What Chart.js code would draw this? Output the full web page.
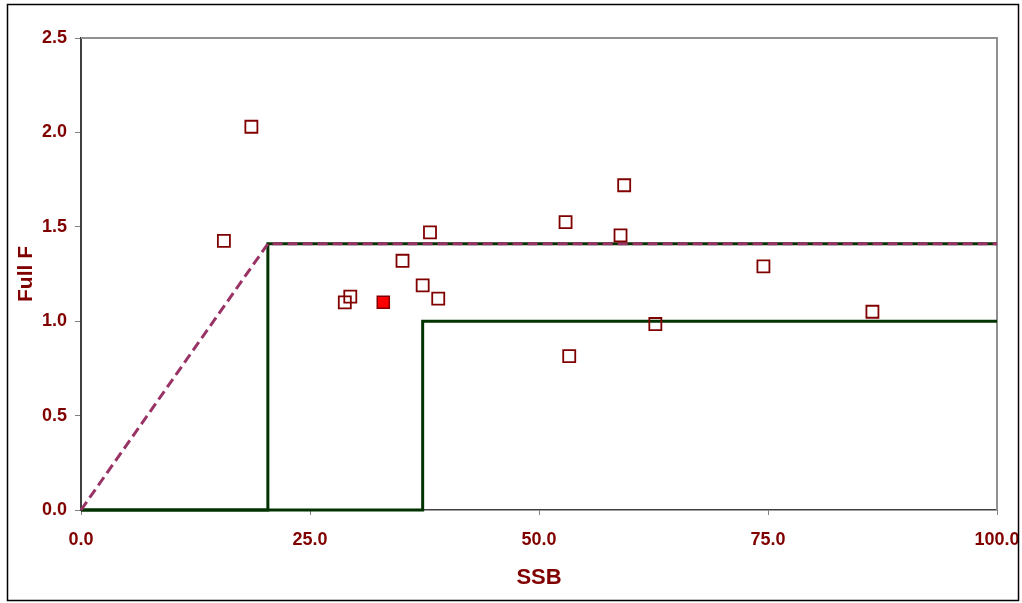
<!DOCTYPE html>
<html>
<head>
<meta charset="utf-8">
<script src="https://cdn.jsdelivr.net/npm/chart.js@4"></script>
<style>
  html, body { margin: 0; padding: 0; background: #fff; }
  #wrap { width: 1022px; height: 603px; position: relative; }
</style>
</head>
<body>
<div id="wrap"><canvas id="chart"></canvas></div>
<script>
// observed stock points (SSB, Full F)
const ssb   = [18.6, 15.6, 28.8, 29.4, 35.1, 37.3, 38.1, 39.0, 52.9, 53.3, 58.9, 59.3, 62.7, 74.5, 86.4];
const fullF = [2.03, 1.425, 1.10, 1.13, 1.32, 1.19, 1.47, 1.12, 1.525, 0.815, 1.455, 1.72, 0.985, 1.29, 1.05];

// latest year, drawn filled
const currentSsb = [33.0];
const currentF   = [1.10];

// harvest control rule lines
const ruleX  = [0, 20.4, 100];
const ruleY  = [0, 1.41, 1.41];
const limitX = [0, 20.4, 20.4, 100];
const limitY = [0, 0, 1.41, 1.41];
const targetX = [0, 37.3, 37.3, 100];
const targetY = [0, 0, 1.0, 1.0];

const xTicks = [0, 25, 50, 75, 100];
const yTicks = [0, 0.5, 1.0, 1.5, 2.0, 2.5];

const toPoints = (xs, ys) => xs.map((x, i) => ({ x: x, y: ys[i] }));

const textColor = '#800000';
const font = "'Liberation Sans', Arial, sans-serif";

const framePlugin = {
  id: 'frame',
  beforeDatasetsDraw(chart) {
    const { ctx, chartArea: a } = chart;
    ctx.save();
    ctx.strokeStyle = '#909090';
    ctx.lineWidth = 2;
    ctx.beginPath();
    ctx.moveTo(a.left, a.top);
    ctx.lineTo(a.right, a.top);
    ctx.lineTo(a.right, a.bottom);
    ctx.stroke();
    ctx.restore();
  },
  afterDraw(chart) {
    const ctx = chart.ctx;
    ctx.save();
    ctx.strokeStyle = '#000';
    ctx.lineWidth = 1.5;
    ctx.strokeRect(7.5, 4.5, 1011, 596);
    ctx.restore();
  }
};

new Chart(document.getElementById('chart'), {
  type: 'scatter',
  data: {
    datasets: [
      {
        data: toPoints(currentSsb, currentF),
        pointStyle: 'rect',
        pointRadius: 8.5,
        pointBackgroundColor: '#ff0000',
        pointBorderColor: textColor,
        pointBorderWidth: 1.5
      },
      {
        data: toPoints(ssb, fullF),
        pointStyle: 'rect',
        pointRadius: 8.5,
        pointBackgroundColor: 'rgba(0,0,0,0)',
        pointBorderColor: textColor,
        pointBorderWidth: 1.8
      },
      {
        data: toPoints(ruleX, ruleY),
        showLine: true,
        pointRadius: 0,
        borderColor: '#993366',
        borderWidth: 3,
        borderDash: [10, 5],
        clip: 6
      },
      {
        data: toPoints(limitX, limitY),
        showLine: true,
        pointRadius: 0,
        borderColor: '#003300',
        borderWidth: 3,
        clip: 6
      },
      {
        data: toPoints(targetX, targetY),
        showLine: true,
        pointRadius: 0,
        borderColor: '#003300',
        borderWidth: 3,
        clip: 6
      }
    ]
  },
  options: {
    responsive: true,
    maintainAspectRatio: false,
    animation: false,
    layout: { padding: { top: 38, right: 25, left: 0, bottom: 0 } },
    plugins: {
      legend: { display: false },
      tooltip: { enabled: false }
    },
    scales: {
      x: {
        type: 'linear',
        min: 0,
        max: 100,
        afterBuildTicks: s => { s.ticks = xTicks.map(v => ({ value: v })); },
        afterFit: s => { s.height = 93; s.paddingLeft = 0; s.paddingRight = 0; },
        grid: { drawOnChartArea: false, drawTicks: true, tickLength: 5, color: '#808080' },
        border: { display: true, color: '#404040', width: 1.5 },
        ticks: {
          padding: 14,
          color: textColor,
          font: { family: font, size: 18, weight: 'bold' },
          callback: v => Number(v).toFixed(1),
          maxRotation: 0
        },
        title: {
          display: true,
          text: 'SSB',
          color: textColor,
          font: { family: font, size: 22, weight: 'bold' },
          padding: { top: 0, bottom: 12 }
        }
      },
      y: {
        type: 'linear',
        min: 0,
        max: 2.5,
        afterBuildTicks: s => { s.ticks = yTicks.map(v => ({ value: v })); },
        afterFit: s => { s.width = 81; s.paddingTop = 0; s.paddingBottom = 0; },
        grid: { drawOnChartArea: false, drawTicks: true, tickLength: 6, color: '#808080' },
        border: { display: true, color: '#404040', width: 2 },
        ticks: {
          padding: 8,
          color: textColor,
          font: { family: font, size: 18, weight: 'bold' },
          callback: v => Number(v).toFixed(1)
        },
        title: {
          display: true,
          text: 'Full F',
          color: textColor,
          font: { family: font, size: 21, weight: 'bold' },
          padding: { top: 14, bottom: 0 }
        }
      }
    }
  },
  plugins: [framePlugin]
});
</script>
</body>
</html>
